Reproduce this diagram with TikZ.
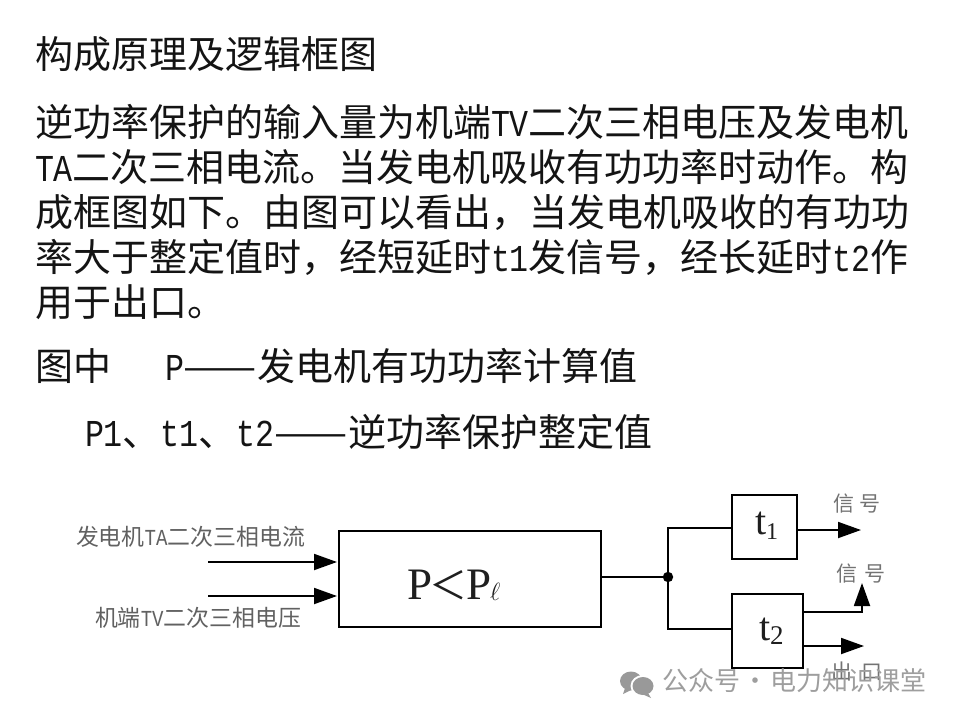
\documentclass[tikz,border=0pt]{standalone}
\usepackage{fontspec}
\usepackage{graphicx}
\usetikzlibrary{arrows.meta}
\setmainfont{Noto Sans CJK SC}
\newfontfamily\lat[FakeStretch=0.833]{Liberation Mono}
\newfontfamily\ser{Liberation Serif}
\newcommand{\fs}[1]{\fontsize{#1}{#1}\selectfont}
\newcommand{\longdash}{\scalebox{1.15}[1]{——}}
\tikzset{
  x=1pt,y=-1pt,
  body/.style={anchor=base west,inner sep=0pt,outer sep=0pt,text=black!92,font=\fs{38}},
  lbl/.style={anchor=base west,inner sep=0pt,outer sep=0pt,text=black!62,font=\fs{22.9}},
  sig/.style={anchor=base west,inner sep=0pt,outer sep=0pt,text=black!55,font=\fs{21}},
  blockbox/.style={draw=black,line width=2.1pt,inner sep=0pt,anchor=north west},
  wire/.style={draw=black,line width=1.9pt},
  arr/.style={wire,-{Triangle[length=23pt,width=16pt]}},
  mathtxt/.style={anchor=base west,inner sep=0pt,outer sep=0pt,text=black!88}
}
\begin{document}
\begin{tikzpicture}
\useasboundingbox (0,0) rectangle (960,720);
\fill[white] (0,0) rectangle (960,720);
% body text
\node[body] (l1) at (35,68) {构成原理及逻辑框图};
\node[body] (l2) at (35,136) {逆功率保护的输入量为机端{\lat TV}二次三相电压及发电机};
\node[body] (l3) at (35,181) {{\lat TA}二次三相电流。当发电机吸收有功功率时动作。构};
\node[body] (l4) at (35,226) {成框图如下。由图可以看出，当发电机吸收的有功功};
\node[body] (l5) at (35,271) {率大于整定值时，经短延时{\lat t1}发信号，经长延时{\lat t2}作};
\node[body] (l6) at (35,316) {用于出口。};
\node[body] (l7) at (35,380) {图中};
\node[body] (l8) at (165,380) {{\lat P}\longdash 发电机有功功率计算值};
\node[body] (l9) at (85,446) {{\lat P1}、{\lat t1}、{\lat t2}\longdash 逆功率保护整定值};
% blocks
\node[blockbox,minimum width=262pt,minimum height=96pt] (main) at (338,530) {};
\node[blockbox,minimum width=65pt,minimum height=64pt] (t1) at (731,494) {};
\node[blockbox,minimum width=71pt,minimum height=74pt] (t2) at (731,593) {};
\node[mathtxt] (pl) at (407,599) {\ser\fs{45}P\hspace{-3pt}{\rmfamily\fs{38}＜}\hspace{-1pt}P\hspace{-1pt}\raisebox{-1pt}{\fs{24}\(\ell\)}};
\node[mathtxt] (t1t) at (755,534) {\fs{40}\ser t\raisebox{-5pt}{\fs{24}1}};
\node[mathtxt] (t2t) at (759,640) {\fs{40}\ser t\raisebox{-4pt}{\fs{27}2}};
% junction
\fill[black] (668,577) circle (5.2) coordinate (j);
\coordinate (in1) at (208,562); \coordinate (in1e) at (337,562);
\coordinate (in2) at (208,596); \coordinate (in2e) at (337,596);
\draw[arr] (in1) -- (in1e);
\draw[arr] (in2) -- (in2e);
\draw[wire] (main.east |- j) -- (j);
\draw[wire] (j) |- (t1.west |- 0,528);
\draw[wire] (j) |- (t2.west |- 0,629);
\coordinate (o1) at (861,530);
\draw[arr] (t1.east |- o1) -- (o1);
\coordinate (o2c) at (862,612); \coordinate (o2e) at (862,583);
\draw[arr] (t2.east |- o2c) -- (o2c) -- (o2e);
\coordinate (o3) at (864,646);
\draw[arr] (t2.east |- o3) -- (o3);
% labels
\node[lbl] (a) at (76,545) {发电机{\lat TA}二次三相电流};
\node[lbl] (b) at (95,626) {机端{\lat TV}二次三相电压};
\node[sig] (c) at (833,511) {信\hspace{6pt}号};
\node[sig] (d) at (836,581) {信\hspace{8pt}号};
\node[sig] (e) at (831,679) {出\hspace{9pt}口};
% watermark
\fill[black!40] (631,681) ellipse (11 and 9.5);
\fill[white] (643,686) ellipse (12.5 and 11);
\fill[black!40] (643,686) ellipse (10.5 and 9);
\fill[black!40] (625,688) -- (623,694) -- (631,690) -- cycle;
\fill[black!40] (648,693) -- (651,698) -- (642,694) -- cycle;
\node[anchor=base west,inner sep=0pt,text=black!38,font=\fs{26}] (w) at (662,690) {公众号\hspace{-3.5pt} · \hspace{-3.5pt}电力知识课堂};
\end{tikzpicture}
\end{document}
